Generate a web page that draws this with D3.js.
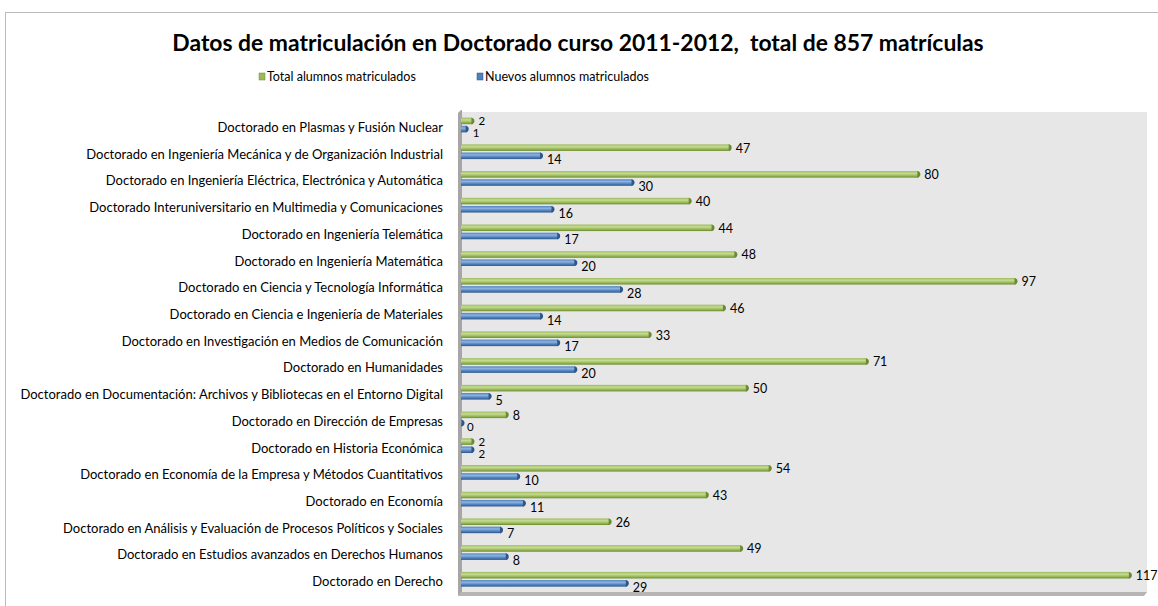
<!DOCTYPE html>
<html>
<head>
<meta charset="utf-8">
<script src="https://cdn.jsdelivr.net/npm/d3@7"></script>
<style>
  body { margin: 0; background: #fff; }
  svg { display: block; font-family: Lato, "Open Sans", sans-serif; }
</style>
</head>
<body>
<svg id="chart" width="1158" height="606"></svg>
<script>
// Data
const categories = [
    'Doctorado en Plasmas y Fusión Nuclear',
    'Doctorado en Ingeniería Mecánica y de Organización Industrial',
    'Doctorado en Ingeniería Eléctrica, Electrónica y Automática',
    'Doctorado Interuniversitario en Multimedia y Comunicaciones',
    'Doctorado en Ingeniería Telemática',
    'Doctorado en Ingeniería Matemática',
    'Doctorado en Ciencia y Tecnología Informática',
    'Doctorado en Ciencia e Ingeniería de Materiales',
    'Doctorado en Investigación en Medios de Comunicación',
    'Doctorado en Humanidades',
    'Doctorado en Documentación: Archivos y Bibliotecas en el Entorno Digital',
    'Doctorado en Dirección de Empresas',
    'Doctorado en Historia Económica',
    'Doctorado en Economía de la Empresa y Métodos Cuantitativos',
    'Doctorado en Economía',
    'Doctorado en Análisis y Evaluación de Procesos Políticos y Sociales',
    'Doctorado en Estudios avanzados en Derechos Humanos',
    'Doctorado en Derecho'
];
const totalAlumnos = [2, 47, 80, 40, 44, 48, 97, 46, 33, 71, 50, 8, 2, 54, 43, 26, 49, 117];
const nuevosAlumnos = [1, 14, 30, 16, 17, 20, 28, 14, 17, 20, 5, 0, 2, 10, 11, 7, 8, 29];
const seriesNames = ['Total alumnos matriculados', 'Nuevos alumnos matriculados'];
const chartTitle = 'Datos de matriculación en Doctorado curso 2011-2012,  total de 857 matrículas';

const svg = d3.select('#chart');
const plot = { left: 461, right: 1147, top: 112, bottom: 593 };

// Colours (green / blue with shading)
const colors = {
    total: { light: '#c6db94', mid: '#9bbb59', dark: '#6b8a32' },
    nuevos: { light: '#8db3e2', mid: '#4f81bd', dark: '#2f5689' }
};

// Gradients for the cylinder-like bars
const defs = svg.append('defs');
Object.entries(colors).forEach(([key, c]) => {
    const g = defs.append('linearGradient')
        .attr('id', 'grad-' + key)
        .attr('x1', 0).attr('y1', 0).attr('x2', 0).attr('y2', 1);
    g.append('stop').attr('offset', '0%').attr('stop-color', c.mid);
    g.append('stop').attr('offset', '35%').attr('stop-color', c.light);
    g.append('stop').attr('offset', '70%').attr('stop-color', c.mid);
    g.append('stop').attr('offset', '100%').attr('stop-color', c.dark);
});

// Outer chart frame
svg.append('rect')
    .attr('x', 5.5).attr('y', 12.5)
    .attr('width', 1170).attr('height', 620)
    .attr('fill', '#fff')
    .attr('stroke', '#bcbcbc');

// Title
svg.append('text')
    .attr('x', 578).attr('y', 51)
    .attr('text-anchor', 'middle')
    .attr('font-size', 22.9)
    .attr('font-weight', 'bold')
    .attr('fill', '#000')
    .attr('xml:space', 'preserve')
    .text(chartTitle);

// Legend
const legendItems = [
    { name: seriesNames[0], key: 'total', x: 259 },
    { name: seriesNames[1], key: 'nuevos', x: 477 }
];
const legend = svg.append('g').selectAll('g')
    .data(legendItems)
    .join('g')
    .attr('transform', d => `translate(${d.x},73)`);
legend.append('rect')
    .attr('width', 6).attr('height', 7)
    .attr('fill', d => colors[d.key].mid)
    .attr('stroke', d => colors[d.key].dark)
    .attr('stroke-width', 0.5);
legend.append('text')
    .attr('x', 8).attr('y', 8)
    .attr('font-size', 12.5)
    .attr('fill', '#000')
    .text(d => d.name);

// Scales
const x = d3.scaleLinear().domain([0, 120]).range([plot.left, plot.right]);
const y = d3.scaleBand().domain(categories).range([plot.top, plot.bottom]);
const ySeries = d3.scaleBand().domain(['total', 'nuevos']).range([4, 22]).padding(0.2);

// Back wall, left wall and floor
svg.append('rect')
    .attr('x', plot.left).attr('y', plot.top)
    .attr('width', plot.right - plot.left).attr('height', plot.bottom - plot.top)
    .attr('fill', '#e7e7e7');
svg.append('path')
    .attr('d', `M${plot.left - 3},${plot.top + 1} L${plot.left},${plot.top - 2} L${plot.left + 1},${plot.top - 2} L${plot.left + 1},${plot.bottom} L${plot.left - 3},${plot.bottom + 3} Z`)
    .attr('fill', '#a6a6a6');
svg.append('path')
    .attr('d', `M${plot.left - 3},${plot.bottom + 3} L${plot.left},${plot.bottom - 1} L${plot.right},${plot.bottom - 1} L${plot.right - 3},${plot.bottom + 3} Z`)
    .attr('fill', '#b5b5b5');

// Category axis labels
svg.append('g').selectAll('text')
    .data(categories)
    .join('text')
    .attr('x', 443)
    .attr('y', d => y(d) + y.bandwidth() / 2 + 2)
    .attr('dy', '0.35em')
    .attr('text-anchor', 'end')
    .attr('font-size', 13)
    .attr('fill', '#000')
    .text(d => d);

// Bars
const rows = categories.map((c, i) => [
    { cat: c, key: 'total', value: totalAlumnos[i] },
    { cat: c, key: 'nuevos', value: nuevosAlumnos[i] }
]).flat();

const bar = svg.append('g').selectAll('g')
    .data(rows)
    .join('g')
    .attr('transform', d => `translate(0,${y(d.cat) + ySeries(d.key)})`);

const bh = ySeries.bandwidth();

bar.append('rect')
    .attr('x', x(0))
    .attr('y', 0)
    .attr('width', d => Math.max(x(d.value) - x(0), 1.5))
    .attr('height', bh)
    .attr('fill', d => `url(#grad-${d.key})`);

// End caps
bar.append('path')
    .attr('d', d => {
        const xe = Math.max(x(d.value), x(0) + 1.5);
        return `M${xe - 1},0 Q${xe + 2},0.5 ${xe + 2},${bh / 2} Q${xe + 2},${bh - 0.5} ${xe - 1},${bh} Z`;
    })
    .attr('fill', d => colors[d.key].dark);

// Value labels
bar.append('text')
    .attr('x', d => x(d.value) + 6)
    .attr('y', d => bh / 2 + (d.key === 'total' ? 0.5 : 4))
    .attr('dy', '0.35em')
    .attr('font-size', d => d.value <= 2 ? 11.5 : 12.5)
    .attr('fill', '#000')
    .text(d => d.value);
</script>
</body>
</html>
